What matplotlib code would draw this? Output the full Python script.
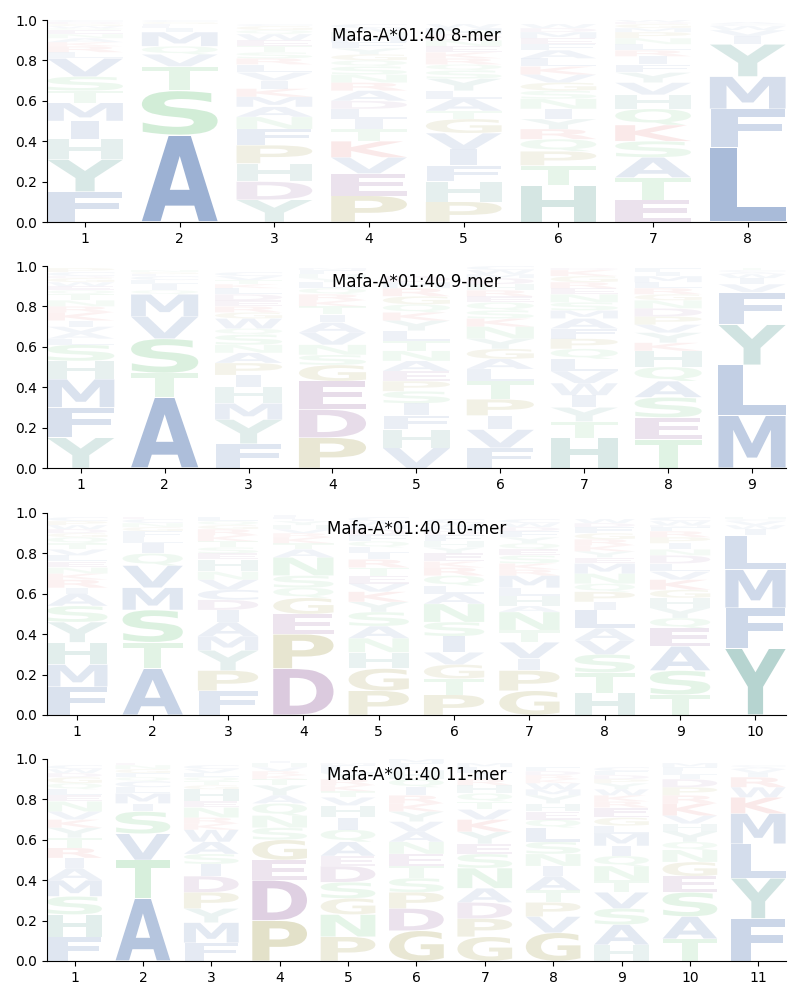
import matplotlib
matplotlib.use('agg')
import matplotlib.pyplot as plt
from matplotlib.textpath import TextPath
from matplotlib.patches import PathPatch
from matplotlib.font_manager import FontProperties
from matplotlib.transforms import Affine2D

allele = 'Mafa-A*01:40'
lengths = [8, 9, 10, 11]

# letters per position, stacked bottom -> top, with their heights
mer8_letters = ['FYHIMTSVLRKANEQWGDC', 'ASTVQMILFGC', 'YDHPFNAMKIVLRSTEWQGC',
                'PEVKTILDARNSQGYFMHWC', 'PHFIVGTALYSQRKENDMW', 'HTPQRYINSGVKLAFEMDW',
                'ETASKQHVYFIRLNPMGDW', 'LFMYIVWCA']
mer8_heights = [
    [.15, .16, .10, .09, .09, .06, .07, .09, .03, .03, .02, .02, .02, .02, .01, .01, .01, .01, .01],
    [.43, .22, .12, .06, .04, .07, .02, .01, .01, .01, .01],
    [.11, .09, .09, .09, .08, .06, .05, .05, .04, .04, .04, .04, .03, .03, .03, .03, .03, .02, .02, .01],
    [.13, .11, .08, .08, .06, .05, .05, .04, .05, .04, .04, .04, .03, .03, .03, .03, .03, .02, .02, .02],
    [.10, .10, .08, .08, .08, .07, .04, .06, .04, .06, .04, .03, .03, .03, .03, .03, .03, .03, .02],
    [.18, .10, .07, .06, .05, .05, .05, .05, .04, .04, .04, .04, .04, .04, .03, .03, .03, .02, .02],
    [.11, .11, .10, .08, .08, .08, .07, .06, .05, .04, .04, .03, .03, .03, .03, .02, .02, .01, .01],
    [.37, .19, .16, .16, .04, .03, .02, .01, .01],
]

mer9_letters = ['YFMHSLAVIKRNTQEWGDCP', 'ATSVMQILCFGN', 'FYMHIPANSQWGREDLKTVC',
                'PDEGSNVAITKRQLYHFM', 'VHFISPEANTLYKQGRMD', 'FVIPTLAGYNKSQERHDMWC',
                'HTYIWVLQPFAMSNERGKD', 'TESAQHKYVPDNGRLMIF', 'MLYFVIWACT']
mer9_heights = [
    [.15, .15, .14, .09, .08, .03, .03, .03, .03, .04, .03, .03, .03, .02, .02, .02, .02, .01, .02, .02],
    [.35, .12, .17, .11, .11, .02, .03, .02, .02, .01, .01, .01],
    [.12, .12, .08, .08, .06, .06, .05, .04, .05, .03, .05, .03, .03, .03, .03, .03, .02, .02, .02, .02],
    [.15, .14, .14, .08, .05, .05, .06, .05, .04, .04, .03, .03, .03, .03, .02, .02, .02, .01],
    [.10, .09, .07, .06, .06, .05, .05, .05, .05, .05, .05, .05, .04, .04, .04, .04, .03, .03],
    [.10, .09, .07, .08, .09, .06, .05, .05, .05, .06, .04, .04, .04, .03, .03, .03, .03, .02, .02, .02],
    [.15, .08, .07, .06, .06, .06, .06, .05, .05, .05, .05, .04, .04, .04, .03, .03, .03, .03, .01],
    [.14, .11, .10, .08, .07, .08, .04, .05, .04, .04, .04, .04, .03, .03, .03, .03, .02, .02],
    [.26, .25, .20, .16, .04, .03, .02, .01, .01, .01],
]

mer10_letters = ['FMHYSAIRKNELVTQGDWPC', 'ATSMVQILFGNCE', 'FPYMAIDCVNHESTKRGQL',
                 'DPEGQSNATKRVHYILF', 'PGHNASYKVETRILQFDMWC', 'PTGVISNALQRKEYHFDMWC',
                 'GPIVTNAHLMRKSEQYFDWC', 'HTSVALIPQNMEYKRGFDW', 'TSAEQYHGKVLDNIPRFMWC',
                 'YFMLIWVCH']
mer10_heights = [
    [.14, .11, .11, .10, .08, .06, .03, .04, .03, .03, .03, .03, .03, .03, .03, .02, .02, .02, .02, .02],
    [.23, .13, .16, .11, .11, .06, .05, .03, .03, .02, .02, .02, .01],
    [.12, .10, .10, .07, .07, .06, .05, .05, .05, .04, .06, .03, .03, .03, .03, .03, .02, .02, .02],
    [.23, .17, .10, .08, .05, .06, .09, .04, .03, .03, .02, .02, .02, .02, .01, .01, .01],
    [.12, .11, .08, .07, .06, .07, .05, .05, .04, .04, .04, .04, .03, .03, .03, .03, .03, .02, .02, .02],
    [.10, .08, .07, .06, .08, .07, .09, .05, .04, .05, .04, .03, .04, .03, .03, .03, .02, .02, .02, .02],
    [.12, .10, .06, .08, .06, .09, .03, .05, .04, .06, .03, .03, .04, .03, .03, .03, .03, .02, .02, .02],
    [.11, .10, .09, .07, .06, .09, .04, .05, .04, .05, .05, .03, .03, .03, .03, .03, .03, .02, .02],
    [.10, .12, .12, .09, .05, .05, .05, .04, .05, .04, .04, .04, .03, .03, .03, .03, .02, .01, .02, .02],
    [.33, .20, .19, .17, .03, .02, .02, .01, .01],
]

mer11_letters = ['FHSMAIRTYKVNELQGDWC', 'ATVSIMLCQFGNE', 'FMYPDISAWKRNEHGTQLVC',
                 'PDEGSNQAYTKRVHI', 'PNGSDEAQIHVTKRYLFM', 'GDPSTENAVYKRIQHLFM',
                 'GPDANSEYKVTQHRILM', 'GVPTAINSLQEHYMWKRDF', 'HASVTNQIMLGERKWYPDFC',
                 'TASEGNQYHVKRPDILFM', 'FYLMKWRIVAC']
mer11_heights = [
    [.12, .11, .09, .08, .06, .05, .05, .05, .05, .04, .04, .05, .03, .03, .03, .03, .02, .02, .02],
    [.31, .19, .13, .11, .04, .05, .03, .03, .02, .02, .02, .02, .01],
    [.09, .10, .07, .08, .08, .06, .05, .06, .06, .03, .03, .05, .03, .06, .02, .02, .02, .02, .02, .02],
    [.20, .20, .10, .10, .06, .06, .06, .04, .05, .03, .02, .02, .02, .02, .01],
    [.12, .11, .08, .08, .08, .05, .07, .06, .06, .06, .04, .03, .03, .03, .03, .02, .02, .01],
    [.15, .11, .08, .07, .06, .06, .06, .05, .05, .05, .04, .04, .04, .04, .04, .02, .02, .02],
    [.12, .09, .08, .07, .10, .07, .05, .06, .06, .05, .04, .04, .04, .03, .03, .03, .02],
    [.14, .08, .07, .06, .07, .05, .06, .06, .07, .04, .04, .04, .04, .03, .03, .02, .02, .02, .02],
    [.08, .10, .08, .08, .06, .07, .05, .05, .06, .04, .04, .05, .03, .03, .03, .03, .02, .02, .02, .02],
    [.11, .11, .12, .08, .07, .06, .04, .05, .04, .04, .06, .04, .04, .04, .02, .02, .02, .02],
    [.21, .20, .17, .15, .08, .05, .05, .02, .02, .01, .01],
]

all_letters = [mer8_letters, mer9_letters, mer10_letters, mer11_letters]
all_heights = [mer8_heights, mer9_heights, mer10_heights, mer11_heights]

# colour groups
colors = {}
for aa in 'AFILMVWC':
    colors[aa] = '#3a64a8'
for aa in 'HY':
    colors[aa] = '#479288'
for aa in 'STNQ':
    colors[aa] = '#5abe6e'
for aa in 'GP':
    colors[aa] = '#928928'
for aa in 'DE':
    colors[aa] = '#82468c'
for aa in 'KR':
    colors[aa] = '#dc4646'

FP = FontProperties(family='DejaVu Sans', weight='bold')
WIDTH = 0.8
VPAD = 0.02

e_box = TextPath((0, 0), 'E', size=1, prop=FP).get_extents()
HSTRETCH_MAX = WIDTH / e_box.width


def draw_letter(ax, ch, x, y0, h):
    path = TextPath((0, 0), ch, size=1, prop=FP)
    bb = path.get_extents()
    hs = min(WIDTH / bb.width, HSTRETCH_MAX)
    w = bb.width * hs
    hh = h * (1 - VPAD)
    t = Affine2D().translate(-bb.x0, -bb.y0).scale(hs, hh / bb.height)
    t = t.translate(x - w / 2, y0 + h * VPAD / 2)
    alpha = min(1.0, 0.03 + 1.1 * h)
    patch = PathPatch(t.transform_path(path), facecolor=colors[ch],
                      edgecolor='none', alpha=alpha)
    ax.add_patch(patch)


fig = plt.figure(figsize=(8, 10), dpi=100)
bottoms = [0.778, 0.532, 0.285, 0.039]

for k, n in enumerate(lengths):
    ax = fig.add_axes([0.059, bottoms[k], 0.923, 0.202])
    for pos in range(n):
        y = 0.0
        for ch, h in zip(all_letters[k][pos], all_heights[k][pos]):
            draw_letter(ax, ch, pos + 1, y, h)
            y += h
    ax.set_xlim(0.6, n + 0.4)
    ax.set_ylim(0, 1)
    ax.set_xticks(range(1, n + 1))
    ax.set_yticks([0, 0.2, 0.4, 0.6, 0.8, 1.0])
    ax.spines['top'].set_visible(False)
    ax.spines['right'].set_visible(False)
    ax.text(0.5, 0.92, f'{allele} {n}-mer', transform=ax.transAxes,
            ha='center', va='center', fontsize=12)

fig.savefig('out.png')
